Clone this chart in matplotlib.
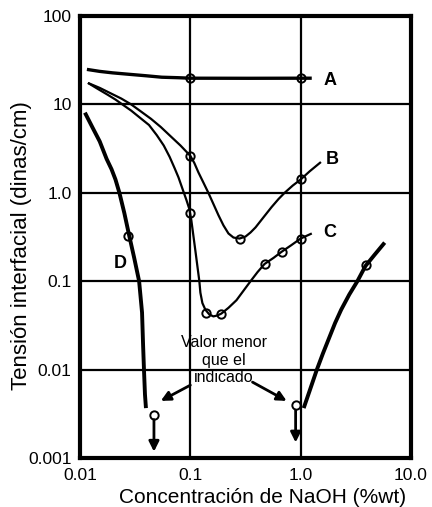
import matplotlib
matplotlib.use("Agg")
import matplotlib.pyplot as plt

plt.rcParams['font.family'] = ['Liberation Sans', 'DejaVu Sans']

# Curve A
a_x = [0.01155, 0.01509, 0.01971, 0.0279, 0.03964, 0.0551, 0.0781, 0.1, 0.336, 1.0, 1.26]
a_y = [24.9, 23.64, 22.76, 21.91, 21.10, 20.31, 20.05, 19.8, 19.75, 19.8, 19.8]
a_mx = [0.1, 1.0]
a_my = [19.8, 19.8]

# Curve B
b_x = [0.0118, 0.01509, 0.0193, 0.0237, 0.0291, 0.0358, 0.0440, 0.0540, 0.0663,
       0.0814, 0.1, 0.1087, 0.1182, 0.1313, 0.1457, 0.1619, 0.1797, 0.1995,
       0.2215, 0.246, 0.279, 0.3162, 0.3512, 0.390, 0.461, 0.545, 0.631, 0.715,
       0.846, 1.0, 1.209, 1.526]
b_y = [17.5, 15.38, 13.21, 11.64, 10.0, 8.29, 6.87, 5.55, 4.36,
       3.43, 2.62, 2.174, 1.708, 1.307, 1.0, 0.747, 0.559, 0.4287,
       0.3468, 0.312, 0.304, 0.320, 0.356, 0.4066, 0.530, 0.690, 0.853, 1.0,
       1.206, 1.416, 1.755, 2.23]
b_mx = [0.1, 0.279, 1.0]
b_my = [2.62, 0.304, 1.416]

# Curve C
c_x = [0.0118, 0.01448, 0.01778, 0.02096, 0.02421, 0.0291, 0.0350, 0.0422, 0.0497,
       0.0574, 0.0649, 0.0720, 0.0781, 0.0848, 0.0921, 0.0980, 0.1021, 0.1065,
       0.1111, 0.1158, 0.1207, 0.1233, 0.1286, 0.1369, 0.1488, 0.1619, 0.1760,
       0.1913, 0.2215, 0.2619, 0.3032, 0.3512, 0.4066, 0.4707, 0.5682, 0.672,
       0.811, 1.0, 1.261]
c_y = [17.5, 14.99, 12.88, 11.35, 10.0, 8.51, 7.06, 5.85, 4.48,
       3.43, 2.553, 1.901, 1.494, 1.113, 0.831, 0.655, 0.4894, 0.329,
       0.2212, 0.1487, 0.1, 0.0743, 0.0566, 0.0476, 0.0420, 0.0400, 0.0410,
       0.0431, 0.0500, 0.0610, 0.0781, 0.1, 0.1269, 0.1568, 0.1838, 0.2154,
       0.2526, 0.304, 0.347]
c_mx = [0.1, 0.1398, 0.1913, 0.4707, 0.672, 1.0]
c_my = [0.589, 0.0441, 0.0431, 0.1568, 0.2154, 0.304]

# Curve D (low concentration branch)
d_x = [0.01108, 0.01306, 0.01509, 0.01742, 0.0193, 0.02096, 0.02276, 0.02523,
       0.0279, 0.03098, 0.03434, 0.0365, 0.0373, 0.0380, 0.0388, 0.0396]
d_y = [8.07, 5.40, 3.815, 2.419, 1.851, 1.416, 1.0, 0.589,
       0.329, 0.1838, 0.1, 0.0442, 0.01904, 0.01, 0.00523, 0.00367]
d_mx = [0.0274]
d_my = [0.329]

# Curve D (high concentration branch)
e_x = [1.065, 1.209, 1.402, 1.591, 1.806, 2.05, 2.328, 2.757, 3.265, 3.866, 4.674, 5.774]
e_y = [0.00367, 0.00582, 0.01, 0.01523, 0.02264, 0.03363, 0.0476, 0.0707, 0.1,
       0.1487, 0.1990, 0.2733]
e_mx = [3.87]
e_my = [0.152]

# points below the detection limit (value shown is an upper bound)
low_x = [0.0468, 0.9]
low_y = [0.00304, 0.00398]
low_start = [0.00272, 0.00348]
low_tip = [0.00118, 0.0015]

x_ticks = [0.01, 0.1, 1.0, 10.0]
x_labels = ['0.01', '0.1', '1.0', '10.0']
y_ticks = [0.001, 0.01, 0.1, 1.0, 10, 100]
y_labels = ['0.001', '0.01', '0.1', '1.0', '10', '100']

fig = plt.figure(figsize=(4.32, 5.07), dpi=100)
ax = fig.add_axes([0.1852, 0.0966, 0.7662, 0.8718])
ax.set_xscale('log')
ax.set_yscale('log')
ax.set_xlim(0.01, 10)
ax.set_ylim(0.001, 100)

ax.set_xticks(x_ticks, x_labels)
ax.set_yticks(y_ticks, y_labels)
ax.minorticks_off()
ax.tick_params(axis='both', length=0, labelsize=12.5)
ax.tick_params(axis='x', pad=7)
ax.tick_params(axis='y', pad=6)
ax.grid(True, which='major', color='black', lw=1.6)
ax.set_axisbelow(True)
for s in ax.spines.values():
    s.set_linewidth(3)

mk = dict(marker='o', ms=6, mfc='none', mec='black', mew=1.4, ls='none')
ln = dict(color='black', solid_joinstyle='round', solid_capstyle='butt')

ax.plot(a_x, a_y, lw=2.4, **ln)
ax.plot(a_mx, a_my, **mk)
ax.plot(b_x, b_y, lw=1.6, **ln)
ax.plot(b_mx, b_my, **mk)
ax.plot(c_x, c_y, lw=1.6, **ln)
ax.plot(c_mx, c_my, **mk)
ax.plot(d_x, d_y, lw=2.8, **ln)
ax.plot(d_mx, d_my, **mk)
ax.plot(e_x, e_y, lw=2.8, **ln)
ax.plot(e_mx, e_my, **mk)
ax.plot(low_x, low_y, **mk)

for x, y0, y1 in zip(low_x, low_start, low_tip):
    ax.annotate('', xy=(x, y1), xytext=(x, y0),
                arrowprops=dict(arrowstyle='-|>', color='black', lw=2,
                                mutation_scale=15, shrinkA=0, shrinkB=0))

# curve labels
lab = dict(fontsize=13, fontweight='bold', ha='center', va='center')
ax.text(1.85, 18.8, 'A', **lab)
ax.text(1.92, 2.36, 'B', **lab)
ax.text(1.85, 0.356, 'C', **lab)
ax.text(0.0232, 0.157, 'D', **lab)

# note for the points below the limit
ax.text(0.2, 0.0128, 'Valor menor\nque el\nindicado', fontsize=11.5,
        ha='center', va='center', linespacing=1.2)
ax.annotate('', xy=(0.054, 0.00443), xytext=(0.1, 0.00667),
            arrowprops=dict(arrowstyle='-|>', color='black', lw=2,
                            mutation_scale=14, shrinkA=0, shrinkB=0))
ax.annotate('', xy=(0.746, 0.00443), xytext=(0.366, 0.00722),
            arrowprops=dict(arrowstyle='-|>', color='black', lw=2,
                            mutation_scale=14, shrinkA=0, shrinkB=0))

ax.set_xlabel('Concentración de NaOH (%wt)', fontsize=15)
ax.set_ylabel('Tensión interfacial (dinas/cm)', fontsize=16)
ax.xaxis.set_label_coords(0.553, -0.067)
ax.yaxis.set_label_coords(-0.145, 0.48)

fig.savefig('out.png', dpi=100)
